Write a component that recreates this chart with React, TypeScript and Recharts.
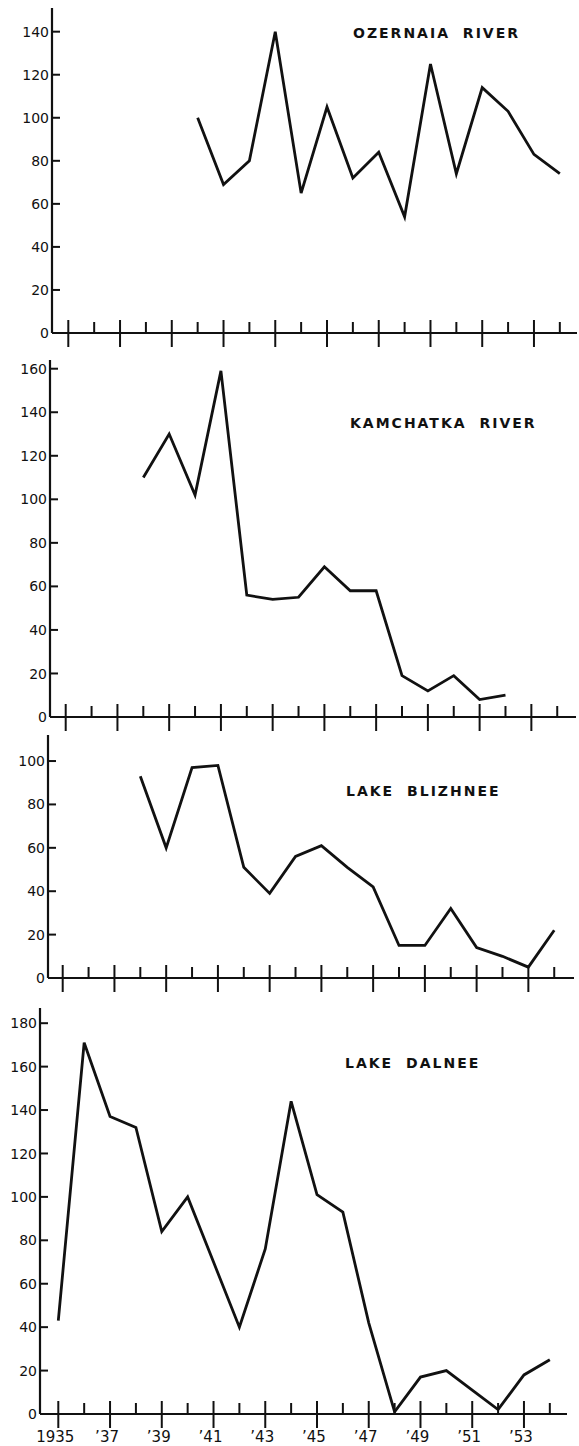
import React from "react";
import { LineChart, Line, XAxis, YAxis } from "recharts";

// years on the shared x axis
const years = [
  1935, 1936, 1937, 1938, 1939, 1940, 1941, 1942, 1943, 1944,
  1945, 1946, 1947, 1948, 1949, 1950, 1951, 1952, 1953, 1954,
];
const labeledYears = [1935, 1937, 1939, 1941, 1943, 1945, 1947, 1949, 1951, 1953];
const yearLabels = ["1935", "’37", "’39", "’41", "’43", "’45", "’47", "’49", "’51", "’53"];

// one value per year, null where there is no record
const ozernaia = [null, null, null, null, null, 100, 69, 80, 140, 65, 105, 72, 84, 54, 125, 74, 114, 103, 83, 74];
const kamchatka = [null, null, null, 110, 130, 102, 159, 56, 54, 55, 69, 58, 58, 19, 12, 19, 8, 10, null, null];
const blizhnee = [null, null, null, 93, 60, 97, 98, 51, 39, 56, 61, 51, 42, 15, 15, 32, 14, 10, 5, 22];
const dalnee = [43, 171, 137, 132, 84, 100, 70, 40, 76, 144, 101, 93, 42, 1, 17, 20, 11, 2, 18, 25];

const ozernaiaTicks = [0, 20, 40, 60, 80, 100, 120, 140];
const kamchatkaTicks = [0, 20, 40, 60, 80, 100, 120, 140, 160];
const blizhneeTicks = [0, 20, 40, 60, 80, 100];
const dalneeTicks = [0, 20, 40, 60, 80, 100, 120, 140, 160, 180];

const PX_YEAR = 25.87;
const FONT = "'DejaVu Sans', sans-serif";
const INK = "#111";

function YearTick(props: any) {
  const { x, y, payload, showLabels } = props;
  const yr = payload.value;
  const major = (yr - 1935) % 2 === 0;
  const idx = labeledYears.indexOf(yr);
  return (
    <g>
      <line x1={x} x2={x} y1={y - (major ? 13 : 11)} y2={major ? y + 14 : y} stroke={INK} strokeWidth={2} />
      {showLabels && idx >= 0 && (
        <text x={x - 3} y={y + 28} textAnchor="middle" fontSize={15} fontFamily={FONT} fill={INK}>
          {yearLabels[idx]}
        </text>
      )}
    </g>
  );
}

function ValueTick(props: any) {
  const { x, y, payload } = props;
  return (
    <g>
      <line x1={x} x2={x + 8} y1={y} y2={y} stroke={INK} strokeWidth={2} />
      <text x={x - 3} y={y} dy="0.36em" textAnchor="end" fontSize={14} fontFamily={FONT} fill={INK}>
        {payload.value}
      </text>
    </g>
  );
}

type PanelProps = {
  title: string;
  values: (number | null)[];
  yTicks: number[];
  yMax: number;
  top: number;
  zero: number;
  axisX: number;
  x1935: number;
  xEnd: number;
  titleX: number;
  titleY: number;
  showYears?: boolean;
};

function Panel({ title, values, yTicks, yMax, top, zero, axisX, x1935, xEnd, titleX, titleY, showYears }: PanelProps) {
  const pad = 6;
  const xH = showYears ? 32 : 20;
  const data = years.map((yr, i) => ({ year: yr, v: values[i] }));
  const lo = 1935 - (x1935 - axisX) / PX_YEAR;
  const hi = 1935 + (xEnd - x1935) / PX_YEAR;
  return (
    <>
      <div style={{ position: "absolute", left: 0, top: top - pad }}>
        <LineChart
          width={579}
          height={zero - top + pad + xH}
          data={data}
          margin={{ top: pad, right: 579 - xEnd, left: 0, bottom: 0 }}
        >
          <XAxis
            dataKey="year"
            type="number"
            domain={[lo, hi]}
            ticks={years}
            interval={0}
            allowDataOverflow
            height={xH}
            tickSize={0}
            tickMargin={0}
            tickLine={false}
            axisLine={{ stroke: INK, strokeWidth: 2.2 }}
            tick={<YearTick showLabels={showYears} />}
          />
          <YAxis
            type="number"
            domain={[0, yMax]}
            ticks={yTicks}
            interval={0}
            allowDataOverflow
            width={axisX}
            tickSize={0}
            tickMargin={0}
            tickLine={false}
            axisLine={{ stroke: INK, strokeWidth: 2.2 }}
            tick={<ValueTick />}
          />
          <Line
            type="linear"
            dataKey="v"
            stroke={INK}
            strokeWidth={2.8}
            dot={false}
            connectNulls={false}
            isAnimationActive={false}
          />
        </LineChart>
      </div>
      <div
        style={{
          position: "absolute",
          left: titleX,
          top: titleY - 8,
          fontFamily: FONT,
          fontWeight: "bold",
          fontSize: 14,
          lineHeight: "16px",
          letterSpacing: 2,
          wordSpacing: 6,
          whiteSpace: "pre",
          color: INK,
        }}
      >
        {title}
      </div>
    </>
  );
}

export default function App() {
  return (
    <div style={{ position: "absolute", left: 0, top: 0, width: 579, height: 1446, background: "#fff" }}>
      <Panel title="OZERNAIA RIVER" values={ozernaia} yTicks={ozernaiaTicks} yMax={151}
        top={8} zero={333} axisX={52} x1935={68.3} xEnd={577} titleX={353} titleY={33} />
      <Panel title="KAMCHATKA RIVER" values={kamchatka} yTicks={kamchatkaTicks} yMax={164}
        top={360} zero={717} axisX={50} x1935={65.7} xEnd={576} titleX={350} titleY={423} />
      <Panel title="LAKE BLIZHNEE" values={blizhnee} yTicks={blizhneeTicks} yMax={112}
        top={735} zero={978} axisX={48} x1935={62.7} xEnd={574} titleX={346} titleY={791} />
      <Panel title="LAKE DALNEE" values={dalnee} yTicks={dalneeTicks} yMax={187}
        top={1008} zero={1414} axisX={40} x1935={58.3} xEnd={567} titleX={345} titleY={1063} showYears />
    </div>
  );
}
